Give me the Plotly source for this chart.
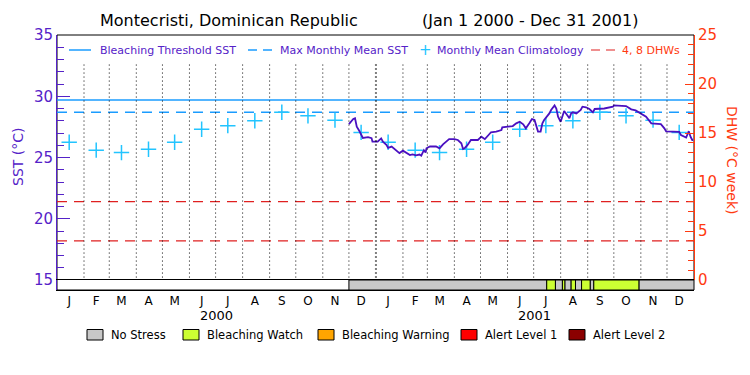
import pandas as pd
import plotly.graph_objects as go

# ---------------- data ----------------
month_letters = ["J", "F", "M", "A", "M", "J", "J", "A", "S", "O", "N", "D"]
years = ["2000", "2001"]
climatology = [26.25, 25.6, 25.4, 25.67, 26.24, 27.3, 27.6, 28.0, 28.7, 28.4, 28.05, 27.05]
mmm_sst = 28.7
bleaching_threshold = 29.7
dhw_levels = [4, 8]

sst_dates = [
    "2000-12-01", "2000-12-06", "2000-12-08", "2000-12-09", "2000-12-10", "2000-12-13",
    "2000-12-15", "2000-12-17", "2000-12-23", "2000-12-27", "2000-12-28", "2001-01-03",
    "2001-01-07", "2001-01-09", "2001-01-13", "2001-01-15", "2001-01-19", "2001-01-24",
    "2001-01-28", "2001-02-01", "2001-02-05", "2001-02-09", "2001-02-12", "2001-02-16",
    "2001-02-20", "2001-02-22", "2001-02-25", "2001-02-27", "2001-02-28", "2001-03-04",
    "2001-03-11", "2001-03-15", "2001-03-19", "2001-03-23", "2001-03-26", "2001-04-01",
    "2001-04-05", "2001-04-09", "2001-04-11", "2001-04-13", "2001-04-16", "2001-04-20",
    "2001-04-28", "2001-05-02", "2001-05-06", "2001-05-11", "2001-05-13", "2001-05-19",
    "2001-05-25", "2001-05-26", "2001-06-01", "2001-06-07", "2001-06-11", "2001-06-15",
    "2001-06-19", "2001-06-22", "2001-06-26", "2001-06-29", "2001-07-02", "2001-07-04",
    "2001-07-06", "2001-07-09", "2001-07-11", "2001-07-13", "2001-07-19", "2001-07-21",
    "2001-07-25", "2001-07-27", "2001-07-29", "2001-08-01", "2001-08-05", "2001-08-09",
    "2001-08-11", "2001-08-13", "2001-08-15", "2001-08-19", "2001-08-24", "2001-08-26",
    "2001-08-30", "2001-09-03", "2001-09-07", "2001-09-09", "2001-09-20", "2001-09-30",
    "2001-10-01", "2001-10-15", "2001-10-21", "2001-10-26", "2001-10-30", "2001-11-07",
    "2001-11-13", "2001-11-24", "2001-11-28", "2001-11-30", "2001-12-15", "2001-12-17",
    "2001-12-23", "2001-12-26", "2001-12-28", "2001-12-30", "2001-12-31",
]
sst_values = [
    27.73, 28.14, 28.2, 27.92, 27.51, 27.16,
    26.89, 26.6, 26.66, 26.58, 26.29, 26.29,
    26.56, 26.29, 26.04, 25.78, 25.89, 25.62,
    25.36, 25.56, 25.35, 25.2, 25.26, 25.18,
    25.24, 25.15, 25.6, 25.4, 25.75, 25.9,
    25.9, 25.75, 26.07, 26.3, 26.5, 26.5,
    26.43, 26.16, 25.7, 25.78, 26.0, 26.43,
    26.43, 26.7, 26.5, 26.9, 27.06, 27.12,
    27.24, 27.47, 27.52, 27.57, 27.79, 27.92,
    27.71, 27.38, 27.79, 28.14, 28.06, 27.65,
    27.12, 27.12, 27.79, 28.06, 28.6, 28.88,
    29.25, 29.0, 28.33, 27.92, 28.8, 28.41,
    28.2, 28.6, 28.69, 28.6, 28.88, 29.15,
    29.1, 28.96, 28.69, 28.96, 29.0, 29.15,
    29.25, 29.2, 28.93, 28.84, 28.65, 28.33,
    27.79, 27.72, 27.38, 27.14, 27.1, 26.84,
    26.63, 27.15, 26.7, 26.43, 26.43,
]

stress_start = ["2000-12-01", "2001-07-16", "2001-07-26", "2001-08-03", "2001-08-06",
                "2001-08-13", "2001-08-18", "2001-08-25", "2001-09-04", "2001-09-08",
                "2001-10-30"]
stress_end = ["2001-07-16", "2001-07-26", "2001-08-03", "2001-08-06", "2001-08-13",
              "2001-08-18", "2001-08-25", "2001-09-04", "2001-09-08", "2001-10-30",
              "2002-01-01"]
stress_level = ["No Stress", "Bleaching Watch", "No Stress", "Bleaching Watch", "No Stress",
                "Bleaching Watch", "No Stress", "Bleaching Watch", "No Stress",
                "Bleaching Watch", "No Stress"]
stress_names = ["No Stress", "Bleaching Watch", "Bleaching Warning", "Alert Level 1", "Alert Level 2"]
stress_colors = ["#c8c8c8", "#ccff33", "#ffa500", "#ff0000", "#8b0000"]

# ---------------- styling ----------------
FONT = "DejaVu Sans"
PURPLE = "#5522c8"
LINE_PURPLE = "#4a10c0"
BLUE = "#1a9cff"
CYAN = "#22c4ff"
RED = "#e02020"
ORANGE_RED = "#ff3a10"

# page is offset by the 8px body margin
OFF = 8
PAGE_W, PAGE_H = 750, 375
W, H = PAGE_W - 2 * OFF, PAGE_H - 2 * OFF
PLOT_L, PLOT_R, PLOT_T, PLOT_B = 57, 694, 35, 290   # page pixels
PW, PH = PLOT_R - PLOT_L, PLOT_B - PLOT_T
L, T = PLOT_L - OFF, PLOT_T - OFF
R, B = W - L - PW, H - T - PH


def px(xp):
    return (xp - PLOT_L) / PW


def py(yp):
    return (PLOT_B - yp) / PH


x_start, x_end = "2000-01-01", "2002-01-01"
color_of = dict(zip(stress_names, stress_colors))

fig = go.Figure()

# stress bar (timeline style)
s0 = pd.to_datetime(stress_start)
s1 = pd.to_datetime(stress_end)
dur_ms = [(b - a).total_seconds() * 1000 for a, b in zip(s0, s1)]
fig.add_trace(go.Bar(
    orientation="h", y=[0.5] * len(stress_start), base=stress_start, x=dur_ms,
    width=1, marker=dict(color=[color_of[s] for s in stress_level],
                         line=dict(color="black", width=1)),
    xaxis="x", yaxis="y3", hoverinfo="skip",
))

# threshold lines
fig.add_trace(go.Scatter(x=[x_start, x_end], y=[bleaching_threshold] * 2, mode="lines",
                         line=dict(color=BLUE, width=1.5), xaxis="x", yaxis="y"))
fig.add_trace(go.Scatter(x=[x_start, x_end], y=[mmm_sst] * 2, mode="lines",
                         line=dict(color=BLUE, width=1.5, dash="10px,7px"), xaxis="x", yaxis="y"))
for lev in dhw_levels:
    fig.add_trace(go.Scatter(x=[x_start, x_end], y=[lev, lev], mode="lines",
                             line=dict(color=RED, width=1.2, dash="10px,7px"),
                             xaxis="x", yaxis="y2"))

# climatology crosses
clim_dates, clim_vals = [], []
for y in years:
    for m in range(12):
        clim_dates.append(f"{y}-{m + 1:02d}-15")
        clim_vals.append(climatology[m])
fig.add_trace(go.Scatter(x=clim_dates, y=clim_vals, mode="markers",
                         marker=dict(symbol="cross-thin", size=11,
                                     line=dict(color=CYAN, width=1.5)),
                         xaxis="x", yaxis="y"))

# SST line
fig.add_trace(go.Scatter(x=sst_dates, y=sst_values, mode="lines",
                         line=dict(color=LINE_PURPLE, width=1.8), xaxis="x", yaxis="y"))

shapes = []
# frame
shapes.append(dict(type="rect", xref="paper", yref="paper", x0=0, x1=1, y0=0, y1=1,
                   line=dict(color="black", width=1), layer="below"))
# dotted month boundaries
month_starts = pd.date_range("2000-02-01", "2001-12-01", freq="MS")
for d in month_starts:
    shapes.append(dict(type="line", xref="x", yref="y", x0=d, x1=d, y0=15.2, y1=32.7,
                       line=dict(color="black", width=2 if (d.month == 1) else 1,
                                 dash="1px,3px"), layer="above"))

annotations = []


def ann(text, x, y, size, color, xanchor="center", xref="paper", angle=0):
    annotations.append(dict(text=text, x=x, y=y, xref=xref, yref="paper",
                            xanchor=xanchor, yanchor="middle", showarrow=False,
                            textangle=angle,
                            font=dict(family=FONT, size=size, color=color)))


# title
ann("Montecristi, Dominican Republic", px(229), py(21), 16, "black")
ann("(Jan 1 2000 - Dec 31 2001)", px(530), py(21), 16, "black")

# top legend
ly = py(50)
shapes.append(dict(type="line", xref="paper", yref="paper", x0=px(69), x1=px(91), y0=ly, y1=ly,
                   line=dict(color=BLUE, width=1.5)))
shapes.append(dict(type="line", xref="paper", yref="paper", x0=px(248), x1=px(272), y0=ly, y1=ly,
                   line=dict(color=BLUE, width=1.5, dash="9px,6px")))
shapes.append(dict(type="line", xref="paper", yref="paper", x0=px(591), x1=px(615), y0=ly, y1=ly,
                   line=dict(color=RED, width=1.2, dash="9px,6px")))
for txt, xx, col in [("Bleaching Threshold SST", 98, PURPLE), ("Max Monthly Mean SST", 278, PURPLE),
                     ("Monthly Mean Climatology", 435, PURPLE), ("4, 8 DHWs", 620, ORANGE_RED)]:
    ann(txt, px(xx), ly, 11, col, xanchor="left")
ann("+", px(425), ly, 15, CYAN)

# axis titles
ann("SST (°C)", px(18), py(157), 14, PURPLE, angle=-90)
ann("DHW (°C week)", px(732), py(160), 14, ORANGE_RED, angle=90)

# year labels
for y in years:
    ann(y, f"{y}-07-02", py(315), 13, "black", xref="x")

# bottom legend
box_x = [87, 183, 318, 461, 569]
for name, col, bx in zip(stress_names, stress_colors, box_x):
    shapes.append(dict(type="rect", xref="paper", yref="paper", x0=px(bx), x1=px(bx + 16),
                       y0=py(340), y1=py(329.5), fillcolor=col,
                       line=dict(color="black", width=1)))
    ann(name, px(bx + 22), py(335), 11.5, "black", xanchor="left")

tick_dates = [f"{y}-{m + 1:02d}-15" for y in years for m in range(12)]

fig.update_layout(
    width=W, height=H,
    margin=dict(l=L, r=R, t=T, b=B, autoexpand=False),
    paper_bgcolor="white", plot_bgcolor="white",
    showlegend=False, hovermode=False,
    font=dict(family=FONT),
    shapes=shapes, annotations=annotations,
    xaxis=dict(type="date", range=[x_start, x_end], anchor="y3", domain=[0, 1],
               tickvals=tick_dates, ticktext=month_letters * 2, ticks="",
               showgrid=False, zeroline=False, showline=True, linecolor="black",
               linewidth=1, mirror=True,
               tickfont=dict(family=FONT, size=12, color="black")),
    yaxis=dict(domain=[10 / PH, 1], range=[15, 35], anchor="x",
               tickvals=[15, 20, 25, 30, 35], ticks="inside", ticklen=13,
               tickcolor=PURPLE, showline=True, linecolor=PURPLE, linewidth=1,
               showgrid=False, zeroline=False,
               tickfont=dict(family=FONT, size=15, color=PURPLE),
               minor=dict(dtick=1, ticks="inside", ticklen=7, tickcolor=PURPLE, showgrid=False)),
    yaxis2=dict(overlaying="y", side="right", anchor="x", range=[0, 25],
                tickvals=[0, 5, 10, 15, 20, 25], ticks="inside", ticklen=9,
                tickcolor=ORANGE_RED, showline=True, linecolor=ORANGE_RED, linewidth=1,
                showgrid=False, zeroline=False,
                tickfont=dict(family=FONT, size=15, color=ORANGE_RED),
                minor=dict(dtick=1, ticks="inside", ticklen=6, tickcolor=ORANGE_RED, showgrid=False)),
    yaxis3=dict(domain=[0, 10 / PH], range=[0, 1], anchor="x", showticklabels=False,
                ticks="", showgrid=False, zeroline=False, showline=True,
                linecolor=PURPLE, linewidth=1, fixedrange=True),
)

fig.write_html("out.html")
